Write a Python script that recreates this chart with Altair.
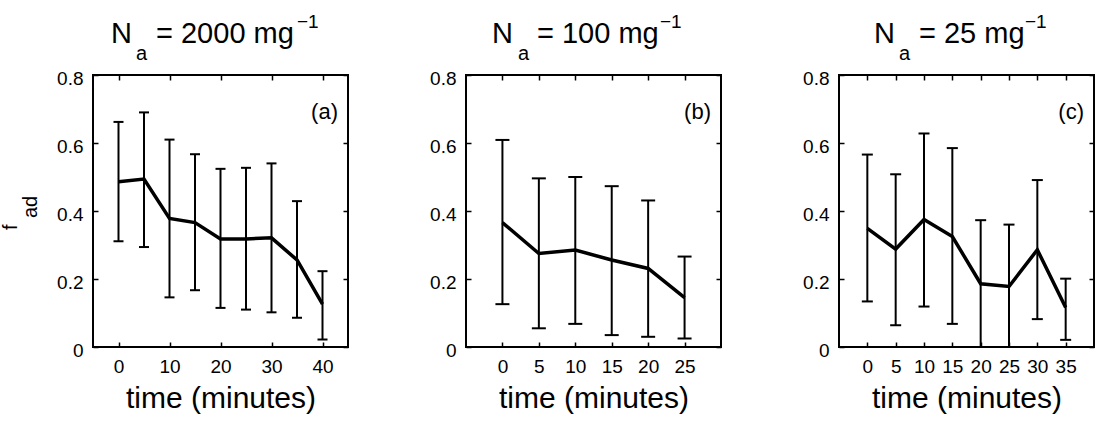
import altair as alt
import pandas as pd

# Fraction adhered (f_ad) vs. time, three initial concentrations N_a.
# Panel (a): N_a = 2000 mg^-1
time_a = [0, 5, 10, 15, 20, 25, 30, 35, 40]
mean_a = [0.486, 0.494, 0.378, 0.366, 0.318, 0.318, 0.321, 0.256, 0.126]
upper_a = [0.662, 0.690, 0.610, 0.567, 0.524, 0.527, 0.540, 0.429, 0.223]
lower_a = [0.311, 0.294, 0.146, 0.167, 0.115, 0.110, 0.102, 0.086, 0.022]

# Panel (b): N_a = 100 mg^-1
time_b = [0, 5, 10, 15, 20, 25]
mean_b = [0.366, 0.275, 0.285, 0.256, 0.231, 0.145]
upper_b = [0.609, 0.496, 0.500, 0.473, 0.431, 0.266]
lower_b = [0.126, 0.055, 0.068, 0.035, 0.030, 0.025]

# Panel (c): N_a = 25 mg^-1
time_c = [0, 5, 10, 15, 20, 25, 30, 35]
mean_c = [0.349, 0.288, 0.375, 0.325, 0.186, 0.178, 0.286, 0.116]
upper_c = [0.566, 0.508, 0.628, 0.585, 0.373, 0.360, 0.491, 0.201]
lower_c = [0.134, 0.064, 0.119, 0.068, -0.001, -0.004, 0.082, 0.021]

x_ticks_a = [0, 10, 20, 30, 40]
x_ticks_b = [0, 5, 10, 15, 20, 25]
x_ticks_c = [0, 5, 10, 15, 20, 25, 30, 35]
y_ticks = [0, 0.2, 0.4, 0.6, 0.8]

FONT = "Liberation Sans"
W, H = 255, 272
ONE = alt.Data(values=[{}])


def text_piece(txt, x, y, size, align="left", angle=0):
    return alt.Chart(ONE).mark_text(
        text=txt, font=FONT, fontSize=size, align=align,
        baseline="alphabetic", angle=angle, color="black",
    ).encode(x=alt.value(x), y=alt.value(y))


def inner_axis(orient, values, labels=True, title=None, fmt=None):
    kw = dict(
        orient=orient, offset=-5, tickSize=5, tickWidth=1.5, tickColor="black",
        domain=False, grid=False, values=values, labels=labels,
        labelFont=FONT, labelFontSize=19, labelColor="black", labelPadding=10,
    )
    if fmt:
        kw["format"] = fmt
    if orient == "left":
        kw["labelOffset"] = 3
    if title:
        kw.update(title=title, titleFont=FONT, titleFontSize=30,
                  titleFontWeight="normal", titleColor="black",
                  titleBaseline="alphabetic", titleY=65)
    else:
        kw["title"] = None
    return alt.Axis(**kw)


def panel(times, mean, upper, lower, domain, xticks, cap, letter, conc,
          title_pos, with_ylabel=False):
    df = pd.DataFrame({"t": times, "m": mean, "hi": upper, "lo": lower})
    xs = alt.Scale(domain=domain, nice=False, zero=False)
    ys = alt.Scale(domain=[0, 0.8], nice=False, zero=False)
    base = alt.Chart(df)

    bars = base.mark_rule(color="black", strokeWidth=2, clip=True).encode(
        x=alt.X("t:Q", scale=xs, axis=inner_axis("bottom", xticks, title="time (minutes)")),
        y=alt.Y("lo:Q", scale=ys, axis=inner_axis("left", y_ticks, fmt="~g")),
        y2="hi:Q",
    )
    cap_hi = base.mark_tick(orient="horizontal", size=cap, thickness=2,
                            color="black", opacity=1, clip=True).encode(
        x=alt.X("t:Q", scale=xs, axis=None),
        y=alt.Y("hi:Q", scale=ys, axis=None),
    )
    cap_lo = base.mark_tick(orient="horizontal", size=cap, thickness=2,
                            color="black", opacity=1, clip=True).encode(
        x=alt.X("t:Q", scale=xs, axis=None),
        y=alt.Y("lo:Q", scale=ys, axis=None),
    )
    line = base.mark_line(color="black", strokeWidth=3.5).encode(
        x=alt.X("t:Q", scale=xs, axis=inner_axis("top", xticks, labels=False)),
        y=alt.Y("m:Q", scale=ys, axis=inner_axis("right", y_ticks, labels=False)),
    )

    nx, ax, ex, sx = title_pos
    layers = [
        bars, cap_hi, cap_lo, line,
        text_piece(f"({letter})", W - 10, 44, 22, align="right"),
        text_piece("N", nx, -32, 29),
        text_piece("a", ax, -15, 20),
        text_piece(f"= {conc} mg", ex, -32, 29),
        text_piece("\u22121", sx, -47, 19),
    ]
    if with_ylabel:
        # rotated y title: f with subscript "ad"
        layers += [
            text_piece("f", -76, 155, 20, angle=270),
            text_piece("ad", -56, 143, 20, angle=270),
        ]
    return alt.layer(*layers).resolve_axis(x="independent", y="independent").properties(
        width=W, height=H
    )


pa = panel(time_a, mean_a, upper_a, lower_a, [-5, 45], x_ticks_a, 10, "a", "2000",
           (18, 43, 63, 204), with_ylabel=True)
pb = panel(time_b, mean_b, upper_b, lower_b, [-5, 30], x_ticks_b, 14, "b", "100",
           (26, 52, 71, 194))
pc = panel(time_c, mean_c, upper_c, lower_c, [-5, 40], x_ticks_c, 11, "c", "25",
           (35, 60, 80, 186))

chart = alt.hconcat(pa, pb, pc, spacing=118, bounds="flush").properties(
    padding={"left": 0, "top": 12, "right": 0, "bottom": 0}
).configure(background="white").configure_view(stroke="black", strokeWidth=2)

chart.save("out.html", embed_options={"renderer": "svg", "actions": False})
